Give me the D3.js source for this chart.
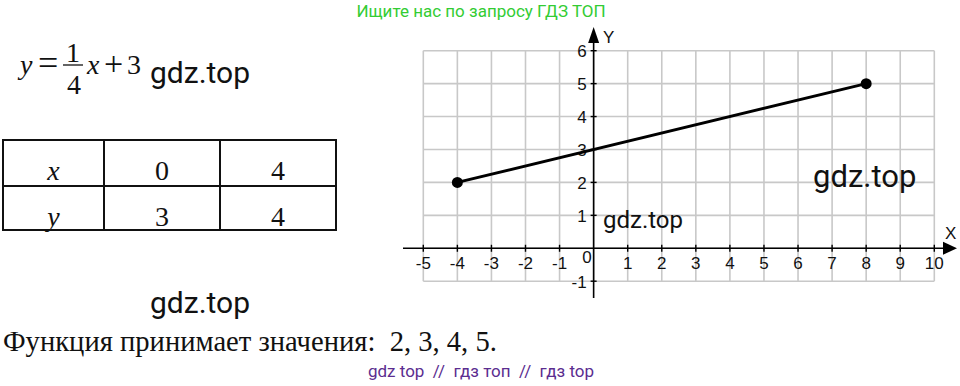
<!DOCTYPE html>
<html>
<head>
<meta charset="utf-8">
<script src="https://cdn.jsdelivr.net/npm/d3@7"></script>
<style>
  body { margin: 0; background: #fff; }
  svg { display: block; }
  .tick-label { font-family: "Liberation Sans Narrow", "Liberation Sans", sans-serif; font-size: 17px; fill: #111; }
  .serif { font-family: "Liberation Serif", "Times New Roman", serif; fill: #111; }
  .wm { font-family: Roboto, "Noto Sans", sans-serif; fill: #111; }
</style>
</head>
<body>
<div id="chart"></div>
<script>
// function y = 1/4 x + 3 on the segment [-4; 8]
const segmentX = [-4, 8];
const segmentY = [2, 5];

// table of values
const tableHeader = ['x', 'y'];
const tableX = [0, 4];
const tableY = [3, 4];

// grid and tick labels
const xTickValues = [-5, -4, -3, -2, -1, 1, 2, 3, 4, 5, 6, 7, 8, 9, 10];
const yTickValues = [-1, 1, 2, 3, 4, 5, 6];
const gridX = [-5, -4, -3, -2, -1, 0, 1, 2, 3, 4, 5, 6, 7, 8, 9, 10];
const gridY = [-1, 0, 1, 2, 3, 4, 5, 6];

const rangeValues = [2, 3, 4, 5];

const width = 960;
const height = 386;

const svg = d3.select('#chart').append('svg')
    .attr('width', width)
    .attr('height', height);

// top / bottom captions
svg.append('text')
    .attr('x', 481).attr('y', 17)
    .attr('text-anchor', 'middle')
    .style('font-family', 'Roboto, sans-serif')
    .style('font-size', '17px')
    .style('fill', '#33cc33')
    .text('Ищите нас по запросу ГДЗ ТОП');

svg.append('text')
    .attr('x', 481).attr('y', 377)
    .attr('text-anchor', 'middle')
    .style('font-family', 'Roboto, sans-serif')
    .style('font-size', '17px')
    .style('white-space', 'pre')
    .style('fill', '#5b2d90')
    .text('gdz top  //  гдз топ  //  гдз top');

// FORMULA
const formula = svg.append('g').attr('class', 'serif').style('font-size', '28px');
formula.append('text').attr('x', 20).attr('y', 74).style('font-style', 'italic').text('y');
formula.append('text').attr('x', 38).attr('y', 75).style('font-size', '36px').text('=');
formula.append('text').attr('x', 73).attr('y', 62).attr('text-anchor', 'middle').text('1');
formula.append('line')
    .attr('x1', 63).attr('x2', 83).attr('y1', 65).attr('y2', 65)
    .attr('stroke', '#111').attr('stroke-width', 1.3);
formula.append('text').attr('x', 74).attr('y', 94).attr('text-anchor', 'middle').text('4');
formula.append('text').attr('x', 87).attr('y', 74).style('font-style', 'italic').text('x');
formula.append('text').attr('x', 104).attr('y', 75).style('font-size', '34px').text('+');
formula.append('text').attr('x', 127).attr('y', 74).text(segmentY.length + 1);

// TABLE
const colEdges = [3, 104, 220, 336];
const rowEdges = [140, 186, 230];
const table = svg.append('g');

rowEdges.forEach(yy => {
    table.append('line')
        .attr('x1', colEdges[0] - 1).attr('x2', colEdges[3] + 1)
        .attr('y1', yy).attr('y2', yy)
        .attr('stroke', '#111').attr('stroke-width', 2);
});
colEdges.forEach(xx => {
    table.append('line')
        .attr('x1', xx).attr('x2', xx)
        .attr('y1', rowEdges[0]).attr('y2', rowEdges[2])
        .attr('stroke', '#111').attr('stroke-width', 2);
});

const rows = [[tableHeader[0], ...tableX], [tableHeader[1], ...tableY]];
const rowBase = [180, 226];
rows.forEach((row, r) => {
    row.forEach((v, c) => {
        table.append('text')
            .attr('class', 'serif')
            .attr('x', (colEdges[c] + colEdges[c + 1]) / 2)
            .attr('y', rowBase[r])
            .attr('text-anchor', 'middle')
            .style('font-size', '28px')
            .style('font-style', c === 0 ? 'italic' : 'normal')
            .text(v);
    });
});

// answer line
svg.append('text')
    .attr('class', 'serif')
    .attr('x', 3).attr('y', 351)
    .style('font-size', '28.6px')
    .style('white-space', 'pre')
    .text('Функция принимает значения:  ' + rangeValues.join(', ') + '.');

// GRAPH
const x = d3.scaleLinear().domain([-5, 10]).range([423.3, 934.3]);
const y = d3.scaleLinear().domain([-1, 6]).range([281.2, 50.7]);

const graph = svg.append('g');

// grid
graph.selectAll('.vgrid')
    .data(gridX)
    .enter().append('line')
    .attr('class', 'vgrid')
    .attr('x1', d => x(d)).attr('x2', d => x(d))
    .attr('y1', y(-1)).attr('y2', y(6))
    .attr('stroke', '#c8c8c8').attr('stroke-width', 1.6);

graph.selectAll('.hgrid')
    .data(gridY)
    .enter().append('line')
    .attr('class', 'hgrid')
    .attr('x1', x(-5)).attr('x2', x(10))
    .attr('y1', d => y(d)).attr('y2', d => y(d))
    .attr('stroke', '#c8c8c8').attr('stroke-width', 1.6);

// axes
graph.append('line')
    .attr('x1', 403).attr('x2', 946)
    .attr('y1', y(0)).attr('y2', y(0))
    .attr('stroke', '#000').attr('stroke-width', 1.6);
graph.append('line')
    .attr('x1', x(0)).attr('x2', x(0))
    .attr('y1', 298).attr('y2', 38)
    .attr('stroke', '#000').attr('stroke-width', 1.6);

// arrow heads
graph.append('path')
    .attr('d', `M${957},${y(0)} L${943},${y(0) - 6.5} L${943},${y(0) + 6.5} Z`)
    .attr('fill', '#000');
graph.append('path')
    .attr('d', `M${x(0)},${27} L${x(0) - 5.5},${43} L${x(0) + 5.5},${43} Z`)
    .attr('fill', '#000');

graph.append('text')
    .attr('class', 'tick-label')
    .attr('x', 603).attr('y', 43)
    .text('Y');
graph.append('text')
    .attr('class', 'tick-label')
    .attr('x', 945).attr('y', 239)
    .text('X');

// ticks
graph.selectAll('.xtick')
    .data(xTickValues)
    .enter().append('line')
    .attr('class', 'xtick')
    .attr('x1', d => x(d)).attr('x2', d => x(d))
    .attr('y1', y(0) - 3.5).attr('y2', y(0) + 3.5)
    .attr('stroke', '#000').attr('stroke-width', 1.4);

graph.selectAll('.ytick')
    .data(yTickValues)
    .enter().append('line')
    .attr('class', 'ytick')
    .attr('x1', x(0) - 3).attr('x2', x(0) + 3)
    .attr('y1', d => y(d)).attr('y2', d => y(d))
    .attr('stroke', '#000').attr('stroke-width', 1.4);

graph.selectAll('.xlabel')
    .data(xTickValues)
    .enter().append('text')
    .attr('class', 'tick-label')
    .attr('x', d => x(d))
    .attr('y', y(0) + 21)
    .attr('text-anchor', 'middle')
    .text(d => d);

graph.selectAll('.ylabel')
    .data(yTickValues)
    .enter().append('text')
    .attr('class', 'tick-label')
    .attr('x', x(0) - 7)
    .attr('y', d => y(d) + 6.5)
    .attr('text-anchor', 'end')
    .text(d => d);

graph.append('text')
    .attr('class', 'tick-label')
    .attr('x', x(0) - 2)
    .attr('y', y(0) + 15)
    .attr('text-anchor', 'end')
    .text(0);

// segment
const lineGen = d3.line().x(d => x(d[0])).y(d => y(d[1]));
const points = segmentX.map((d, i) => [d, segmentY[i]]);

graph.append('path')
    .datum(points)
    .attr('d', lineGen)
    .attr('fill', 'none')
    .attr('stroke', '#000')
    .attr('stroke-width', 3);

graph.selectAll('.dot')
    .data(points)
    .enter().append('circle')
    .attr('class', 'dot')
    .attr('cx', d => x(d[0]))
    .attr('cy', d => y(d[1]))
    .attr('r', 5.5)
    .attr('fill', '#000');

// watermarks
const marks = [
    { x: 150, y: 83, size: 30 },
    { x: 150, y: 313, size: 30 },
    { x: 603, y: 228, size: 24 },
    { x: 813, y: 187, size: 31 }
];
svg.selectAll('.wm-text')
    .data(marks)
    .enter().append('text')
    .attr('class', 'wm')
    .attr('x', d => d.x).attr('y', d => d.y)
    .style('font-size', d => d.size + 'px')
    .text('gdz.top');
</script>
</body>
</html>
